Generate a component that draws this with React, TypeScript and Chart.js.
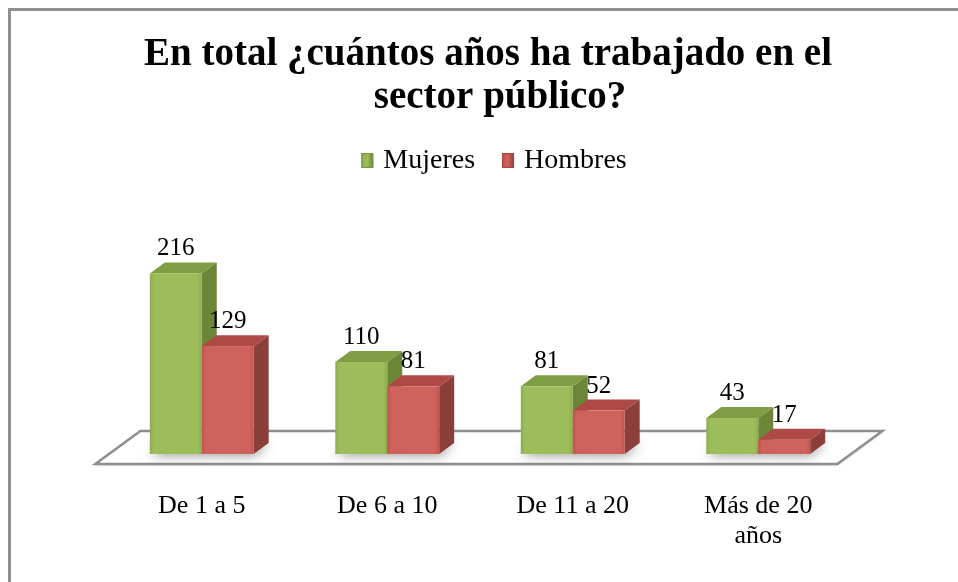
import React, { useEffect, useRef } from 'react';
import { Chart, registerables } from 'chart.js';

Chart.register(...registerables);

const TITLE_LINES = ['En total ¿cuántos años ha trabajado en el', 'sector público?'];
const CATEGORIES: (string | string[])[] = ['De 1 a 5', 'De 6 a 10', 'De 11 a 20', ['Más de 20', 'años']];
const SERIES_NAMES = ['Mujeres', 'Hombres'];
const MUJERES = [216, 110, 81, 43];
const HOMBRES = [129, 81, 52, 17];
const Y_MAX = 250;

const FONT = "'Liberation Serif', 'DejaVu Serif', serif";

type Palette = { front: string; frontEdge: string; side: string; top: string; stroke: string };
const GREEN: Palette = { front: '#9dbd5b', frontEdge: '#8dac4f', side: '#6b8637', top: '#7f9e44', stroke: '#7a9842' };
const RED: Palette = { front: '#cf625d', frontEdge: '#bf534f', side: '#8c3e3a', top: '#ae4945', stroke: '#a9423f' };
const PALETTES = [GREEN, RED];

const DX = 15; // 3D depth, horizontal
const DY = 11; // 3D depth, vertical

function poly(ctx: CanvasRenderingContext2D, pts: number[][]) {
  ctx.beginPath();
  ctx.moveTo(pts[0][0], pts[0][1]);
  for (let i = 1; i < pts.length; i++) ctx.lineTo(pts[i][0], pts[i][1]);
  ctx.closePath();
}

function drawBox(ctx: CanvasRenderingContext2D, x0: number, x1: number, top: number, base: number, p: Palette) {
  poly(ctx, [[x1, top], [x1 + DX, top - DY], [x1 + DX, base - DY], [x1, base]]);
  ctx.fillStyle = p.side;
  ctx.fill();
  poly(ctx, [[x0, top], [x0 + DX, top - DY], [x1 + DX, top - DY], [x1, top]]);
  ctx.fillStyle = p.top;
  ctx.fill();
  const g = ctx.createLinearGradient(x0, 0, x1, 0);
  g.addColorStop(0, p.frontEdge);
  g.addColorStop(0.08, p.front);
  g.addColorStop(0.92, p.front);
  g.addColorStop(1, p.frontEdge);
  ctx.fillStyle = g;
  ctx.fillRect(x0, top, x1 - x0, base - top);
}

const bar3d = {
  id: 'bar3d',
  beforeDatasetsDraw(chart: any) {
    const ctx: CanvasRenderingContext2D = chart.ctx;
    const area = chart.chartArea;
    const base = chart.scales.y.getPixelForValue(0);
    const k = DX / DY;
    const fFront = base + 10;
    const fBack = base - 23;
    ctx.save();
    poly(ctx, [
      [area.left - 10 * k, fFront],
      [area.right - 10 * k, fFront],
      [area.right + 23 * k, fBack],
      [area.left + 23 * k, fBack],
    ]);
    ctx.shadowColor = 'rgba(0,0,0,0.25)';
    ctx.shadowBlur = 3;
    ctx.shadowOffsetY = 1;
    ctx.fillStyle = '#ffffff';
    ctx.fill();
    ctx.shadowColor = 'transparent';
    ctx.lineWidth = 2.5;
    ctx.strokeStyle = '#8e8e8e';
    ctx.stroke();

    const metas = chart.data.datasets.map((_: any, d: number) => chart.getDatasetMeta(d));
    metas.forEach((meta: any) => {
      meta.data.forEach((el: any) => {
        const { x, base: b, width } = el.getProps(['x', 'base', 'width'], true);
        const x0 = x - width / 2;
        const x1 = x + width / 2;
        ctx.save();
        ctx.shadowColor = 'rgba(0,0,0,0.45)';
        ctx.shadowBlur = 12;
        poly(ctx, [[x0, b], [x1, b], [x1 + DX, b - DY], [x0 + DX, b - DY]]);
        ctx.fillStyle = '#ffffff';
        ctx.fill();
        ctx.restore();
      });
    });
    const n = chart.data.labels.length;
    for (let i = 0; i < n; i++) {
      metas.forEach((meta: any, d: number) => {
        const el = meta.data[i];
        if (!el) return;
        const { x, y, base: b, width } = el.getProps(['x', 'y', 'base', 'width'], true);
        drawBox(ctx, x - width / 2, x + width / 2, y, b, PALETTES[d]);
      });
    }
    ctx.restore();
    return false;
  },
  afterDraw(chart: any) {
    const ctx: CanvasRenderingContext2D = chart.ctx;
    ctx.save();
    ctx.fillStyle = '#000';
    ctx.textAlign = 'center';
    ctx.textBaseline = 'alphabetic';
    ctx.font = `bold 39px ${FONT}`;
    ctx.fillText(TITLE_LINES[0], 488, 65);
    ctx.fillText(TITLE_LINES[1], 500, 108);

    ctx.font = `28px ${FONT}`;
    const mw = 12, mh = 15, gap = 10, spacing = 27;
    const widths = SERIES_NAMES.map((s) => ctx.measureText(s).width);
    const total = widths.reduce((a, w) => a + mw + gap + w, 0) + spacing * (SERIES_NAMES.length - 1);
    let lx = 494 - total / 2;
    ctx.textAlign = 'left';
    SERIES_NAMES.forEach((s, d) => {
      const p = PALETTES[d];
      const g = ctx.createLinearGradient(lx, 0, lx + mw, 0);
      g.addColorStop(0, p.frontEdge);
      g.addColorStop(0.5, p.front);
      g.addColorStop(1, p.side);
      ctx.fillStyle = g;
      ctx.fillRect(lx, 153, mw, mh);
      ctx.strokeStyle = p.stroke;
      ctx.lineWidth = 1;
      ctx.strokeRect(lx + 0.5, 153.5, mw - 1, mh - 1);
      ctx.fillStyle = '#000';
      ctx.fillText(s, lx + mw + gap, 168);
      lx += mw + gap + widths[d] + spacing;
    });

    ctx.font = `25px ${FONT}`;
    ctx.textAlign = 'center';
    chart.data.datasets.forEach((ds: any, d: number) => {
      const meta = chart.getDatasetMeta(d);
      meta.data.forEach((el: any, i: number) => {
        const { x, y } = el.getProps(['x', 'y'], true);
        ctx.fillText(String(ds.data[i]), x, y - 18);
      });
    });
    ctx.restore();
  },
};

export default function App() {
  const ref = useRef<HTMLCanvasElement | null>(null);
  useEffect(() => {
    if (!ref.current) return;
    const chart = new Chart(ref.current, {
      type: 'bar',
      data: {
        labels: CATEGORIES,
        datasets: [
          { label: SERIES_NAMES[0], data: MUJERES, backgroundColor: GREEN.front },
          { label: SERIES_NAMES[1], data: HOMBRES, backgroundColor: RED.front },
        ],
      },
      options: {
        responsive: false,
        animation: false,
        layout: { padding: { left: 109, right: 107, top: 245, bottom: 0 } },
        datasets: { bar: { barPercentage: 1, categoryPercentage: 0.56 } },
        plugins: {
          legend: { display: false },
          title: { display: false },
          tooltip: { enabled: false },
        },
        scales: {
          x: {
            grid: { display: false, drawTicks: false },
            border: { display: false },
            afterFit: (scale: any) => {
              scale.height = 128;
            },
            ticks: {
              color: '#000',
              padding: 37,
              maxRotation: 0,
              autoSkip: false,
              font: { family: FONT, size: 26, lineHeight: 1.15 },
            },
          },
          y: { display: false, min: 0, max: Y_MAX },
        },
      },
      plugins: [bar3d],
    } as any);
    return () => chart.destroy();
  }, []);

  return (
    <div style={{ position: 'fixed', left: 0, top: 0, width: 958, height: 582, background: '#fff', overflow: 'hidden' }}>
      <div
        style={{
          position: 'absolute',
          left: 8,
          top: 8,
          width: 970,
          height: 600,
          borderTop: '3px solid #8f8f8f',
          borderLeft: '3px solid #8f8f8f',
          boxSizing: 'border-box',
        }}
      />
      <canvas ref={ref} width={958} height={582} style={{ position: 'absolute', left: 0, top: 0, width: 958, height: 582 }} />
    </div>
  );
}
